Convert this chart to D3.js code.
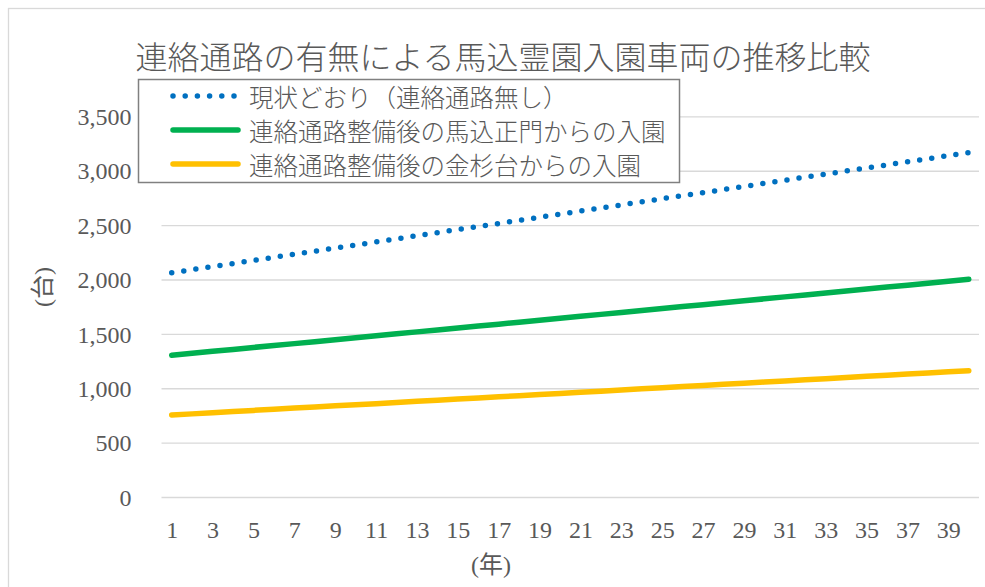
<!DOCTYPE html>
<html>
<head>
<meta charset="utf-8">
<script src="https://cdn.jsdelivr.net/npm/d3@7"></script>
<style>
  body { margin: 0; background: #fff; }
  text { fill: #595959; }
</style>
</head>
<body>
<div id="chart"></div>
<script>
var title = "連絡通路の有無による馬込霊園入園車両の推移比較"
var yTitle = "(台)"
var xTitle = "(年)"

var years = d3.range(1, 41)
var xTickLabels = [1, 3, 5, 7, 9, 11, 13, 15, 17, 19, 21, 23, 25, 27, 29, 31, 33, 35, 37, 39]
var yTicks = [0, 500, 1000, 1500, 2000, 2500, 3000, 3500]

var seriesNames = [
  "現状どおり（連絡通路無し）",
  "連絡通路整備後の馬込正門からの入園",
  "連絡通路整備後の金杉台からの入園"
]

// 現状どおり
var current = [2067, 2095, 2124, 2152, 2181, 2209, 2237, 2265, 2294, 2322,
  2350, 2379, 2407, 2436, 2464, 2493, 2520, 2548, 2577, 2605,
  2634, 2662, 2691, 2719, 2748, 2776, 2803, 2832, 2860, 2889,
  2917, 2946, 2974, 3003, 3031, 3059, 3087, 3115, 3144, 3172]

// 馬込正門
var magome = [1308, 1326, 1344, 1362, 1380, 1398, 1415, 1433, 1451, 1469,
  1487, 1505, 1523, 1541, 1559, 1577, 1594, 1612, 1630, 1648,
  1666, 1684, 1702, 1720, 1738, 1756, 1773, 1791, 1809, 1827,
  1845, 1863, 1881, 1899, 1917, 1935, 1952, 1970, 1988, 2006]

// 金杉台
var kanasugi = [759, 769, 780, 790, 801, 811, 822, 832, 843, 853,
  863, 874, 884, 895, 905, 916, 926, 936, 947, 957,
  968, 978, 989, 999, 1010, 1020, 1030, 1041, 1051, 1062,
  1072, 1083, 1093, 1104, 1114, 1124, 1135, 1145, 1156, 1166]

var colors = ["#0070C0", "#00B050", "#FFC000"]

var W = 985, H = 587
var plot = {left: 161.5, right: 979, top: 116.9, bottom: 497.5}

var jpFont = "'Noto Sans CJK JP', sans-serif"
var numFont = "'Liberation Serif', 'Noto Sans CJK JP', serif"

var svg = d3.select("#chart").append("svg")
  .attr("width", W)
  .attr("height", H)

// chart border
svg.append("rect")
  .attr("x", 8.5).attr("y", 8.5)
  .attr("width", 1000).attr("height", 600)
  .attr("fill", "#fff")
  .attr("stroke", "#d9d9d9")
  .attr("stroke-width", 1.3)

var x = d3.scalePoint().domain(years).range([plot.left, plot.right]).padding(0.5)
var y = d3.scaleLinear().domain([0, 3500]).range([plot.bottom, plot.top])

// gridlines
svg.append("g")
  .selectAll("line")
  .data(yTicks)
  .join("line")
  .attr("x1", plot.left).attr("x2", plot.right)
  .attr("y1", function(d) { return y(d) }).attr("y2", function(d) { return y(d) })
  .attr("stroke", "#d9d9d9")
  .attr("stroke-width", 1.3)

var yAxis = d3.axisLeft(y).tickValues(yTicks).tickFormat(d3.format(",")).tickSize(0).tickPadding(30)
var gy = svg.append("g")
  .attr("transform", "translate(" + plot.left + ",0)")
  .call(yAxis)
gy.select(".domain").remove()
gy.selectAll("text")
  .style("font-family", numFont)
  .style("font-size", "24px")
  .style("fill", "#595959")

var xAxis = d3.axisBottom(x).tickValues(xTickLabels).tickSize(0).tickPadding(23)
var gx = svg.append("g")
  .attr("transform", "translate(0," + plot.bottom + ")")
  .call(xAxis)
gx.select(".domain").remove()
gx.selectAll("text")
  .style("font-family", numFont)
  .style("font-size", "24px")
  .style("fill", "#595959")

var line = d3.line()
  .x(function(d, i) { return x(years[i]) })
  .y(function(d) { return y(d) })

var allSeries = [current, magome, kanasugi]

svg.append("g")
  .selectAll("path")
  .data(allSeries)
  .join("path")
  .attr("d", line)
  .attr("fill", "none")
  .attr("stroke", function(d, i) { return colors[i] })
  .attr("stroke-width", 5.5)
  .attr("stroke-linecap", "round")
  .attr("stroke-linejoin", "round")
  .attr("stroke-dasharray", function(d, i) { return i == 0 ? "0 12.2" : null })

// title
svg.append("text")
  .attr("x", 503).attr("y", 55)
  .attr("text-anchor", "middle")
  .attr("dominant-baseline", "central")
  .style("font-family", jpFont)
  .style("font-weight", 300)
  .style("font-size", "32px")
  .text(title)

// axis titles
svg.append("text")
  .attr("transform", "translate(43,287) rotate(-90)")
  .attr("text-anchor", "middle")
  .attr("dominant-baseline", "central")
  .style("font-family", numFont)
  .style("font-size", "24px")
  .text(yTitle)

svg.append("text")
  .attr("x", 491).attr("y", 565)
  .attr("text-anchor", "middle")
  .attr("dominant-baseline", "central")
  .style("font-family", numFont)
  .style("font-size", "24px")
  .text(xTitle)

// legend
var legend = svg.append("g")
legend.append("rect")
  .attr("x", 138.5).attr("y", 79.5)
  .attr("width", 541).attr("height", 103)
  .attr("fill", "#fff")
  .attr("stroke", "#808080")
  .attr("stroke-width", 1.5)

var rowY = d3.scalePoint().domain([0, 1, 2]).range([96, 164])

var item = legend.selectAll("g.item")
  .data(seriesNames)
  .join("g")
  .attr("class", "item")
  .attr("transform", function(d, i) { return "translate(0," + rowY(i) + ")" })

item.append("line")
  .attr("x1", 173).attr("x2", 238)
  .attr("stroke", function(d, i) { return colors[i] })
  .attr("stroke-width", 5.5)
  .attr("stroke-linecap", "round")
  .attr("stroke-dasharray", function(d, i) { return i == 0 ? "0 12.2" : null })

item.append("text")
  .attr("x", 249)
  .attr("dominant-baseline", "central")
  .style("font-family", jpFont)
  .style("font-weight", 300)
  .style("font-size", "24.5px")
  .text(function(d) { return d })
</script>
</body>
</html>
